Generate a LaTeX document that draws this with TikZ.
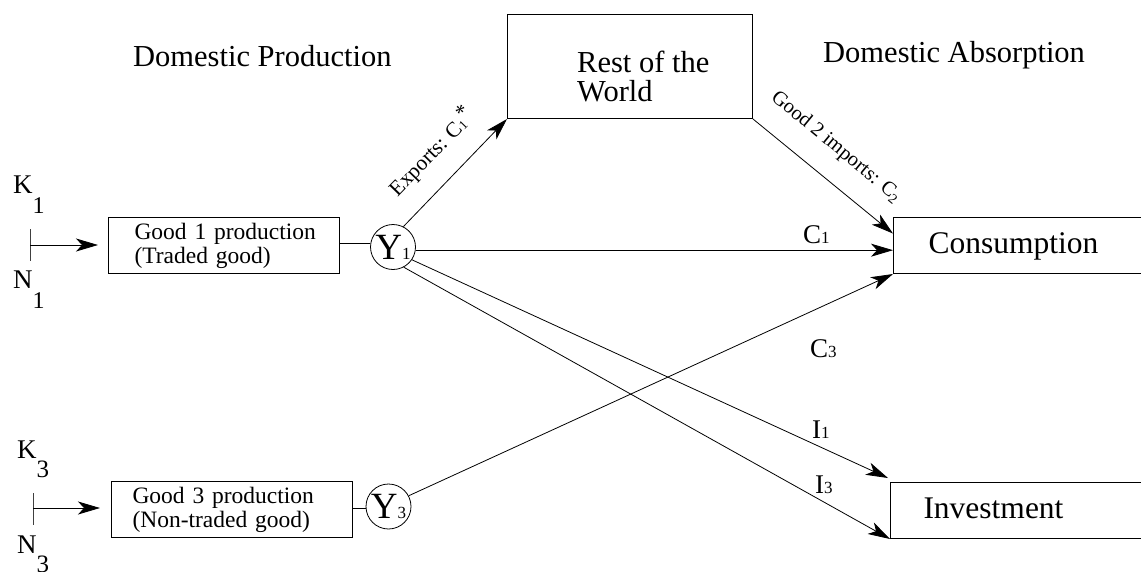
\documentclass[tikz,border=0pt]{standalone}
\usepackage{fontspec}
\setmainfont{Liberation Serif}
\usetikzlibrary{arrows.meta,calc}
\newcommand{\fs}[1]{\fontsize{#1}{#1}\selectfont}
\tikzset{
  conn/.style={line width=0.8pt, -{Stealth[length=22pt,width=13pt,inset=6pt]}},
  plain/.style={line width=0.8pt},
  bigbox/.style={draw, line width=1pt, anchor=north west, minimum height=56pt,
     text width=200pt, align=left, font=\fs{31.5}, text height=21pt, text depth=6pt},
  prodbox/.style={draw, line width=1pt, anchor=north west, minimum height=56pt,
     inner xsep=0pt, align=left, font=\fontsize{23.5}{24}\selectfont},
  ycirc/.style={draw, circle, line width=0.8pt, minimum size=45pt, inner sep=0pt},
  title/.style={anchor=base west, inner sep=0pt, font=\fs{30.5}},
  flowlab/.style={anchor=base west, inner sep=0pt, font=\fs{27}},
  factor/.style={anchor=base west, inner sep=0pt, font=\fs{27}},
  barline/.style={line width=0.8pt, draw=black!75},
}
\begin{document}
\begin{tikzpicture}[x=1pt,y=-1pt]
\useasboundingbox (0,0) rectangle (1141,571);
\clip (0,0) rectangle (1141,571);

% titles
\node[title] (tprod) at (133,66) {Domestic Production};
\node[title] (tabs) at (823,62) {Domestic Absorption};

% rest of the world
\node[draw, line width=1pt, anchor=north west, minimum width=245pt, minimum height=104pt] (row) at (507,14) {};
\node[anchor=base west, inner sep=0pt, align=left, font=\fontsize{30.5}{29}\selectfont] (rowtext) at (577,101.7) {Rest of the\\World};

% production boxes
\node[prodbox, text width=231pt] (g1) at (108,217) {\hspace*{26pt}Good 1 production\\\hspace*{26pt}(Traded good)};
\node[prodbox, text width=241pt] (g3) at (111,481) {\hspace*{21pt}Good 3 production\\\hspace*{21pt}(Non-traded good)};

% output circles
\node[ycirc] (y1) at (393,247) {\fs{37}Y\fs{17}1};
\node[ycirc] (y3) at (388.5,506.5) {\fs{37}Y\fs{17}3};

% absorption boxes
\node[bigbox, inner xsep=35pt] (cons) at (893,217) {Consumption};
\node[bigbox, inner xsep=33pt] (inv) at (890,482) {Investment};

% factors
\node[factor] (k1) at (13,193) {K\raisebox{-20pt}{\fs{24}1}};
\node[factor] (n1) at (13,288) {N\raisebox{-20pt}{\fs{24}1}};
\node[factor] (k3) at (17,458) {K\raisebox{-19pt}{\fs{25}3}};
\node[factor] (n3) at (17,553) {N\raisebox{-19pt}{\fs{25}3}};

\coordinate (b1t) at (30,229);
\coordinate (b1b) at (30,261);
\coordinate (b1m) at (30,245);
\coordinate (b3t) at (33,493);
\coordinate (b3b) at (33,525);
\coordinate (b3m) at (33,508);
\draw[barline] (b1t) -- (b1b);
\draw[barline] (b3t) -- (b3b);
\draw[conn, shorten >=10pt] (b1m) -- (b1m -| g1.west);
\draw[conn, shorten >=11pt] (b3m) -- (b3m -| g3.west);

% production to outputs
\draw[plain] (g1.east |- 0,243) -- (y1.west |- 0,243);
\draw[plain] (g3.east |- 0,508) -- (y3.west |- 0,508);

% flows
\draw[conn] (y1.63) -- (row.south west);
\draw[conn] (row.south east) -- ($(cons.north west)!0.29!(cons.south west)$);
\draw[conn] (y1.-8) -- (y1.-8 -| cons.west);
\draw[conn] (y3.28) -- (cons.south west);
\draw[conn] (y1.-34) -- ($(inv.north west)+(-2,-4)$);
\draw[conn] (y1.-62) -- (inv.south west);

% flow labels
\node[rotate=45.8, inner sep=0pt, font=\fs{21.5}] (lexp) at (431,152) {Exports: C\raisebox{-1pt}{\fs{13}1}\raisebox{6pt}{*}};
\node[rotate=-39.5, inner sep=0pt, font=\fs{20.5}] (limp) at (836,147) {Good 2 imports: C\raisebox{-4pt}{\fs{14}2}};
\node[flowlab] (lc1) at (803,243) {C\fs{17}1};
\node[flowlab] (lc3) at (810,357) {C\fs{17}3};
\node[flowlab] (li1) at (812,438) {I\fs{17}1};
\node[flowlab] (li3) at (815,493) {I\fs{17}3};
\end{tikzpicture}
\end{document}
